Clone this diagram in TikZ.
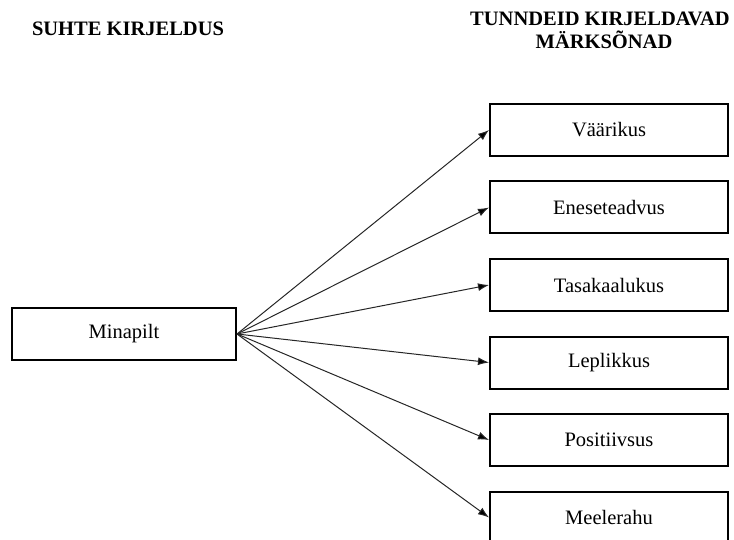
\documentclass[tikz,border=0pt]{standalone}
\usepackage{fontspec}
\setmainfont{Liberation Serif}
\usetikzlibrary{arrows.meta}
\begin{document}
\begin{tikzpicture}[x=1pt,y=-1pt,
  box/.style={draw=black, line width=2pt, minimum width=238pt, minimum height=52pt, inner sep=0pt,
    font=\fontsize{20.5}{23}\selectfont},
  head/.style={font=\fontsize{20.5}{23}\selectfont\bfseries, inner sep=0pt, align=center},
  link/.style={line width=1pt, draw=black!85, -{Latex[length=11pt,width=8pt,fill=black]}}]
\useasboundingbox (0,0) rectangle (734,540);
\clip (0,0) rectangle (734,540);
\node[head, anchor=base] (h1) at (128,36) {SUHTE KIRJELDUS};
\node[head, anchor=base] (h2) at (600,26) {TUNNDEID KIRJELDAVAD};
\node[head, anchor=base] (h3) at (604,49) {MÄRKSÕNAD};
\node[box, minimum width=224pt] (m) at (124,334) {Minapilt};
\node[box] (b1) at (609,130) {Väärikus};
\node[box] (b2) at (609,207.5) {Eneseteadvus};
\node[box] (b3) at (609,285) {Tasakaalukus};
\node[box] (b4) at (609,362.5) {Leplikkus};
\node[box] (b5) at (609,440) {Positiivsus};
\node[box] (b6) at (609,517.5) {Meelerahu};
\foreach \b in {b1,b2,b3,b4,b5,b6}
  \draw[link] (m.east) -- (\b.west);
\end{tikzpicture}
\end{document}
